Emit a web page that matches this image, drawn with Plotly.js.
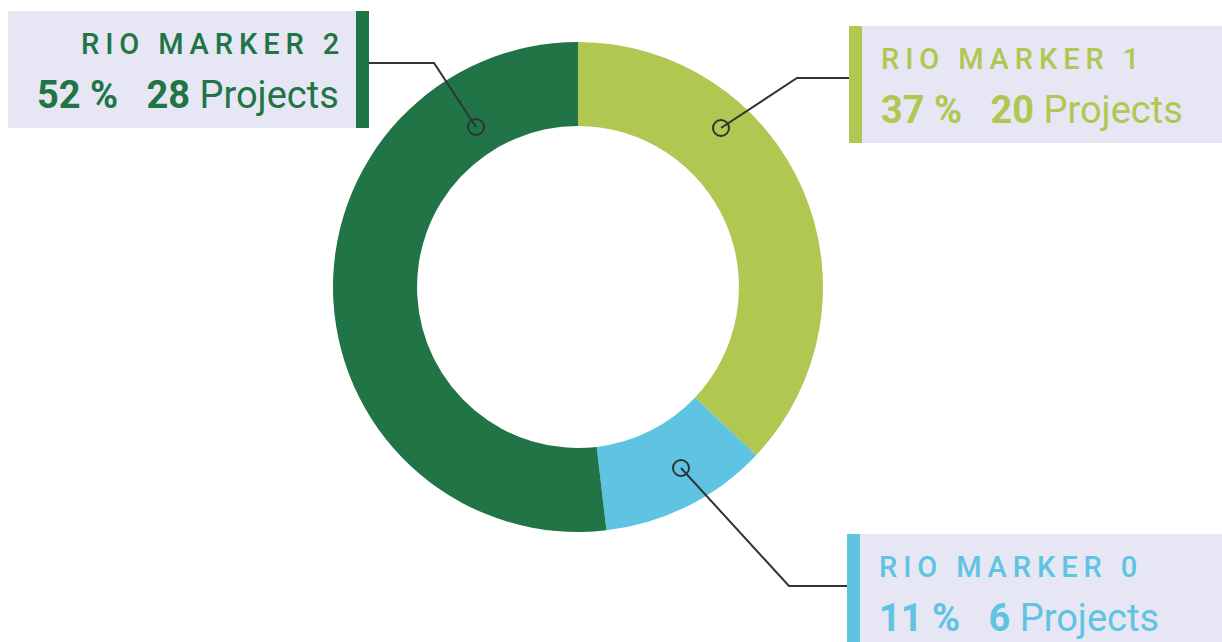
<!DOCTYPE html>
<html>
<head>
<meta charset="utf-8">
<script src="https://cdn.plot.ly/plotly-3.0.1.min.js"></script>
<style>html,body{margin:0;padding:0;background:#fff;}#chart{width:1222px;height:642px;}</style>
</head>
<body>
<div id="chart"></div>
<script>
// ---- data ----
const categories = ['RIO MARKER 1', 'RIO MARKER 0', 'RIO MARKER 2'];
const projects = [20, 6, 28];
const unitLabel = 'Projects';

// ---- styles ----
const sliceColors = ['#b0c752', '#5ec4e1', '#207446'];
const boxBg = '#e7e6f4';
const lineColor = '#2e3437';
const W = 1222, H = 642;
const px = x => x / W;
const py = y => 1 - y / H;

const total = projects.reduce((a, b) => a + b, 0);
const pct = projects.map(v => Math.round(v / total * 100));

function spaced(s) {
  return s.split('').map(c => c === ' ' ? '\u00a0' : c).join('\u2009');
}

// layout of each callout (pixel positions): box, bar, text anchor, leader line
const callouts = [
  { // RIO MARKER 1
    box: [862, 26, 1222, 143], bar: [849, 26, 862, 143],
    textX: 879, align: 'left', titleY: 59, valueY: 110,
    line: [[721, 128], [797, 78], [849, 78]]
  },
  { // RIO MARKER 0
    box: [860, 534, 1222, 642], bar: [847, 534, 860, 642],
    textX: 877, align: 'left', titleY: 567, valueY: 618,
    line: [[681, 468], [789, 586], [847, 586]]
  },
  { // RIO MARKER 2
    box: [8, 11, 356, 128], bar: [356, 11, 369, 128],
    textX: 341, align: 'right', titleY: 44, valueY: 95,
    line: [[476, 127], [434, 63], [369, 63]]
  }
];

const shapes = [];
const annotations = [];
callouts.forEach((c, i) => {
  shapes.push({type: 'rect', xref: 'paper', yref: 'paper', x0: px(c.box[0]), x1: px(c.box[2]), y0: py(c.box[3]), y1: py(c.box[1]), fillcolor: boxBg, line: {width: 0}, layer: 'below'});
  shapes.push({type: 'rect', xref: 'paper', yref: 'paper', x0: px(c.bar[0]), x1: px(c.bar[2]), y0: py(c.bar[3]), y1: py(c.bar[1]), fillcolor: sliceColors[i], line: {width: 0}, layer: 'below'});
  const p = c.line;
  const path = 'M' + p.map(q => px(q[0]) + ',' + py(q[1])).join(' L');
  shapes.push({type: 'path', xref: 'paper', yref: 'paper', path: path, line: {color: lineColor, width: 2}, layer: 'above'});
  const r = 8;
  shapes.push({type: 'circle', xref: 'paper', yref: 'paper', x0: px(p[0][0] - r), x1: px(p[0][0] + r), y0: py(p[0][1] + r), y1: py(p[0][1] - r), line: {color: lineColor, width: 2}, fillcolor: 'rgba(0,0,0,0)', layer: 'above'});
  annotations.push({xref: 'paper', yref: 'paper', x: px(c.textX), y: py(c.titleY), xanchor: c.align, yanchor: 'middle', showarrow: false,
    text: spaced(categories[i]), font: {family: 'Roboto, sans-serif', size: 29, weight: 500, color: sliceColors[i]}});
  annotations.push({xref: 'paper', yref: 'paper', x: px(c.textX), y: py(c.valueY), xanchor: c.align, yanchor: 'middle', showarrow: false,
    text: '<b>' + pct[i] + ' %</b>\u00a0\u00a0\u00a0<b>' + projects[i] + '</b> ' + unitLabel,
    font: {family: 'Roboto, sans-serif', size: 38, color: sliceColors[i]}});
});

const cx = 578, cy = 287, R = 245;
const trace = {
  type: 'pie',
  labels: categories,
  values: projects,
  sort: false,
  direction: 'clockwise',
  rotation: 0,
  hole: 0.657,
  textinfo: 'none',
  hoverinfo: 'none',
  marker: {colors: sliceColors, line: {width: 0}},
  domain: {x: [px(cx - R), px(cx + R)], y: [py(cy + R), py(cy - R)]},
  showlegend: false
};

const layout = {
  width: W, height: H,
  margin: {l: 0, r: 0, t: 0, b: 0},
  paper_bgcolor: '#ffffff',
  plot_bgcolor: '#ffffff',
  shapes: shapes,
  annotations: annotations,
  showlegend: false
};

Plotly.newPlot('chart', [trace], layout, {displayModeBar: false, staticPlot: true});
</script>
</body>
</html>
